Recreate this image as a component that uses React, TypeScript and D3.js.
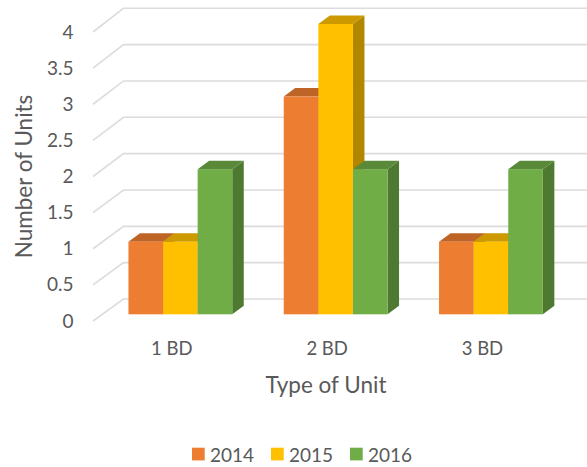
import { useEffect, useRef } from "react";
import * as d3 from "d3";

const categories = ["1 BD", "2 BD", "3 BD"];
const seriesNames = ["2014", "2015", "2016"];
const values2014 = [1, 3, 1];
const values2015 = [1, 4, 1];
const values2016 = [2, 2, 2];
const yTicks = [0, 0.5, 1, 1.5, 2, 2.5, 3, 3.5, 4];

const frontColors = ["#ed7d31", "#ffc000", "#70ad47"];
const topColors = ["#be6427", "#cc9a00", "#5a8a39"];
const sideColors = ["#a85a25", "#b38600", "#4e7931"];

const width = 587;
const height = 467;
const textColor = "#595959";
const font = "Lato, sans-serif";

// offset of the 3D box: front plane -> back wall
const depthX = 11.5;
const depthY = 8.5;

export default function App() {
  const ref = useRef<SVGSVGElement>(null);

  useEffect(() => {
    const svg = d3.select(ref.current);
    svg.selectAll("*").remove();

    const allSeries = [values2014, values2015, values2016];

    const y = d3.scaleLinear().domain([0, 4]).range([314.3, 24]);
    const yBack = d3.scaleLinear().domain([0, 4]).range([299, 8.3]);
    const yWall = d3.scaleLinear().domain([0, 4]).range([321, 32]);

    const x0 = d3
      .scaleBand()
      .domain(categories)
      .range([102.7, 568.6])
      .paddingInner(0.3316)
      .paddingOuter(0.1658);
    const x1 = d3.scaleBand().domain(seriesNames).range([0, x0.bandwidth()]);

    // --- grid on the back wall and the left wall
    const grid = svg.append("g").attr("fill", "none").attr("stroke", "#dcdcdc").attr("stroke-width", 1.6);
    yTicks.forEach(t => {
      grid
        .append("path")
        .attr("d", `M93,${yWall(t)}L123.5,${yBack(t)}H587`);
    });

    // --- bars, left to right so later ones cover the earlier sides
    categories.forEach((cat, i) => {
      seriesNames.forEach((name, s) => {
        const v = allSeries[s][i];
        const left = x0(cat)! + x1(name)!;
        const right = left + x1.bandwidth();
        const top = y(v);
        const base = y(0);
        const g = svg.append("g");
        g.append("path")
          .attr("fill", sideColors[s])
          .attr("d", `M${right},${top}l${depthX},${-depthY}V${base - depthY}L${right},${base}Z`);
        g.append("path")
          .attr("fill", topColors[s])
          .attr("d", `M${left},${top}l${depthX},${-depthY}H${right + depthX}L${right},${top}Z`);
        g.append("rect")
          .attr("x", left)
          .attr("y", top)
          .attr("width", x1.bandwidth())
          .attr("height", base - top)
          .attr("fill", frontColors[s]);
      });
    });

    const text = svg
      .append("g")
      .attr("fill", textColor)
      .style("font-family", font);

    // --- y tick labels
    text
      .selectAll("text.tick")
      .data(yTicks)
      .join("text")
      .attr("class", "tick")
      .attr("x", 73.5)
      .attr("y", d => yWall(d) + 6.6)
      .attr("text-anchor", "end")
      .style("font-size", "19px")
      .text(d => d3.format("")(d));

    // --- category labels
    text
      .selectAll("text.cat")
      .data(categories)
      .join("text")
      .attr("class", "cat")
      .attr("x", d => x0(d)! + x0.bandwidth() / 2 - 8.5)
      .attr("y", 355)
      .attr("text-anchor", "middle")
      .style("font-size", "18.5px")
      .text(d => d);

    // --- axis titles
    text
      .append("text")
      .attr("x", 326)
      .attr("y", 392.5)
      .attr("text-anchor", "middle")
      .style("font-size", "22.5px")
      .text("Type of Unit");

    text
      .append("text")
      .attr("transform", "translate(32,176.5) rotate(-90)")
      .attr("text-anchor", "middle")
      .style("font-size", "22.5px")
      .text("Number of Units");

    // --- legend
    const legendX = d3.scaleOrdinal<string, number>().domain(seriesNames).range([192, 271, 350]);
    const legend = svg
      .append("g")
      .selectAll("g")
      .data(seriesNames)
      .join("g")
      .attr("transform", d => `translate(${legendX(d)},0)`);

    legend
      .append("rect")
      .attr("y", 447.7)
      .attr("width", 12.7)
      .attr("height", 12.7)
      .attr("fill", (_, i) => frontColors[i]);

    legend
      .append("text")
      .attr("x", 18)
      .attr("y", 461.5)
      .attr("fill", textColor)
      .style("font-family", font)
      .style("font-size", "19px")
      .text(d => d);
  }, []);

  return (
    <svg
      ref={ref}
      width={width}
      height={height}
      style={{ position: "absolute", left: 0, top: 0, background: "#fff" }}
    />
  );
}
